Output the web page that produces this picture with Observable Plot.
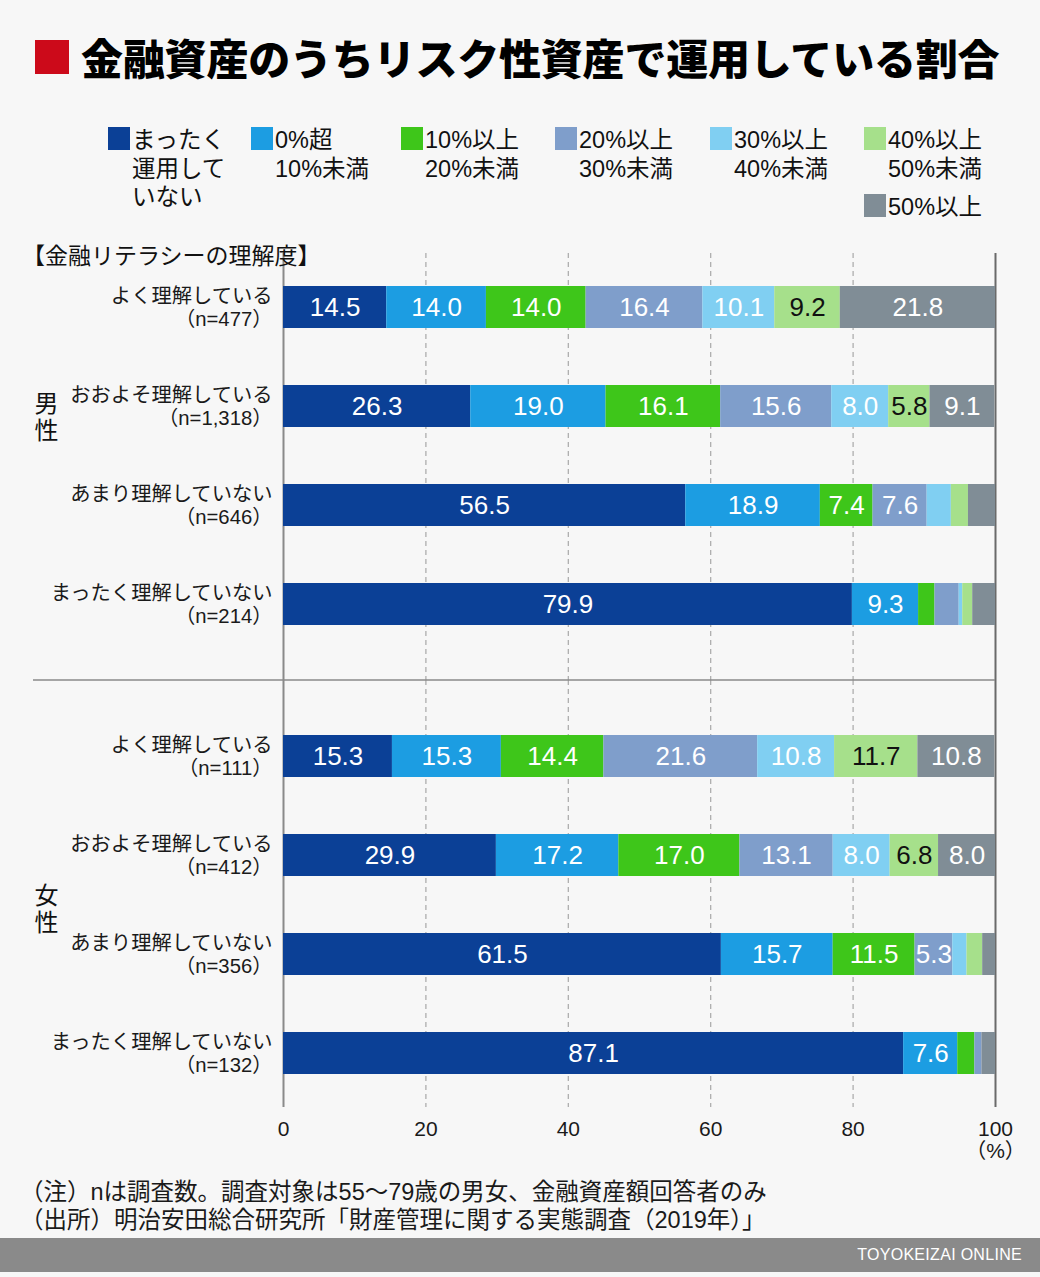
<!DOCTYPE html>
<html lang="ja">
<head>
<meta charset="utf-8">
<script src="https://cdn.jsdelivr.net/npm/d3@7"></script>
<script src="https://cdn.jsdelivr.net/npm/@observablehq/plot@0.6"></script>
<style>
  html, body { margin: 0; padding: 0; background: #f7f7f7; }
  #page { position: relative; width: 1040px; height: 1277px; overflow: hidden;
          font-family: "Noto Sans CJK JP", sans-serif; color: #1a1a1a; background: #f7f7f7; }
  #redbox { position: absolute; left: 35px; top: 40px; width: 34px; height: 34px; background: #cc0a1a; }
  #title { position: absolute; left: 81px; top: 30px; font-size: 42px; line-height: 54px;
           font-weight: 900; color: #000; white-space: nowrap; letter-spacing: -0.2px; }
  .leg { position: absolute; }
  .leg .sw { position: absolute; left: 0; top: 1px; width: 22px; height: 23px; }
  .leg .tx { position: absolute; left: 24px; top: 0; font-family: "Liberation Sans", "Noto Sans CJK JP", sans-serif;
             font-size: 23.5px; line-height: 28.5px; white-space: nowrap; color: #111; }
  #ylabel { position: absolute; left: 22px; top: 238px; font-size: 23px; line-height: 32px; color: #111; white-space: nowrap; }
  #chart { position: absolute; left: 0; top: 228px; }
  #notes { position: absolute; left: 20px; top: 1178px; font-family: "Liberation Sans", "Noto Sans CJK JP", sans-serif;
           font-size: 23.5px; line-height: 28px; color: #1a1a1a; white-space: nowrap; }
  #footer { position: absolute; left: 0; top: 1238px; width: 1040px; height: 34px; background: #8a8a8a; }
  #footer span { position: absolute; right: 18px; top: 0; line-height: 34px; font-family: "Liberation Sans", sans-serif;
                 font-size: 16px; color: #fff; letter-spacing: 0.3px; }
</style>
</head>
<body>
<div id="page">
  <div id="redbox"></div>
  <div id="title"></div>
  <div id="legend"></div>
  <div id="chart"></div>
  <div id="ylabel"></div>
  <div id="notes"></div>
  <div id="footer"><span></span></div>
</div>
<script>
// ---- Data ----
const titleText = "金融資産のうちリスク性資産で運用している割合";
const yAxisTitle = "【金融リテラシーの理解度】";
const genders = ["男性", "女性"];
const levels = ["よく理解している", "おおよそ理解している", "あまり理解していない", "まったく理解していない"];
const maleN = [477, 1318, 646, 214];
const femaleN = [111, 412, 356, 132];
const categories = ["まったく運用していない", "0%超10%未満", "10%以上20%未満", "20%以上30%未満", "30%以上40%未満", "40%以上50%未満", "50%以上"];
const legendLines = [["まったく", "運用して", "いない"], ["0%超", "10%未満"], ["10%以上", "20%未満"], ["20%以上", "30%未満"], ["30%以上", "40%未満"], ["40%以上", "50%未満"], ["50%以上"]];
const colors = ["#0b4096", "#1c9de2", "#3ec61a", "#7f9ecb", "#80cff2", "#a6e08b", "#808d96"];
const maleValues = [
  [14.5, 14.0, 14.0, 16.4, 10.1, 9.2, 21.8],
  [26.3, 19.0, 16.1, 15.6, 8.0, 5.8, 9.1],
  [56.5, 18.9, 7.4, 7.6, 3.4, 2.4, 3.8],
  [79.9, 9.3, 2.3, 3.4, 0.5, 1.4, 3.2]
];
const femaleValues = [
  [15.3, 15.3, 14.4, 21.6, 10.8, 11.7, 10.8],
  [29.9, 17.2, 17.0, 13.1, 8.0, 6.8, 8.0],
  [61.5, 15.7, 11.5, 5.3, 2.0, 2.2, 1.8],
  [87.1, 7.6, 2.4, 1.0, 0.0, 0.0, 1.9]
];
const xTicks = [0, 20, 40, 60, 80, 100];
const gridTicks = [20, 40, 60, 80];
const notes = ["（注）nは調査数。調査対象は55～79歳の男女、金融資産額回答者のみ",
               "（出所）明治安田総合研究所「財産管理に関する実態調査（2019年）」"];
const credit = "TOYOKEIZAI ONLINE";

// ---- Build tables ----
const valuesByGender = {"男性": maleValues, "女性": femaleValues};
const nByGender = {"男性": maleN, "女性": femaleN};
const bars = [];
const rows = [];
for (const g of genders) {
  levels.forEach((lv, i) => {
    rows.push({gender: g, level: lv, n: nByGender[g][i]});
    categories.forEach((c, j) => {
      bars.push({gender: g, level: lv, cat: c, value: valuesByGender[g][i][j]});
    });
  });
}

// ---- Header ----
document.getElementById("title").textContent = titleText;
document.getElementById("ylabel").textContent = yAxisTitle;
const legendLeft = [108, 251, 401, 555, 710, 864, 864];
const legendTop = [126, 126, 126, 126, 126, 126, 193];
const legend = d3.select("#legend");
categories.forEach((c, i) => {
  const item = legend.append("div").attr("class", "leg")
    .style("left", legendLeft[i] + "px").style("top", legendTop[i] + "px");
  item.append("div").attr("class", "sw").style("background", colors[i]);
  item.append("div").attr("class", "tx").html(legendLines[i].join("<br>"));
});
d3.select("#notes").html(notes.join("<br>"));
d3.select("#footer span").text(credit);

// ---- Chart ----
const W = 1040, H = 940, mT = 3, mB = 39, mL = 283, mR = 45;
const numFont = "'Liberation Sans', Arial, sans-serif";
const jpFont = "'Liberation Sans', 'Noto Sans CJK JP', sans-serif";
const gridData = genders.flatMap(g => gridTicks.map(x => ({gender: g, x})));
const fmtN = d3.format(",");

const chart = Plot.plot({
  width: W, height: H,
  marginTop: mT, marginBottom: mB, marginLeft: mL, marginRight: mR,
  style: {background: "transparent", fontFamily: jpFont, color: "#1a1a1a", overflow: "visible"},
  x: {domain: [0, 100]},
  y: {domain: levels, axis: null, paddingInner: 0.5772, paddingOuter: 0.5487},
  fy: {domain: genders, axis: null, padding: 0},
  color: {domain: categories, range: colors},
  marks: [
    // dashed grid
    Plot.ruleX(gridData.filter(d => d.gender === genders[0]), {x: "x", fy: "gender", stroke: "#a8a8a8", strokeWidth: 1.2, strokeDasharray: "5,4", insetTop: 22}),
    Plot.ruleX(gridData.filter(d => d.gender === genders[1]), {x: "x", fy: "gender", stroke: "#a8a8a8", strokeWidth: 1.2, strokeDasharray: "5,4", insetBottom: 22}),
    // axis lines at 0 and 100
    Plot.ruleX([{gender: genders[0], x: 0}, {gender: genders[0], x: 100}], {x: "x", fy: "gender", stroke: d => d.x === 0 ? "#8a8a8a" : "#6a6a6a", strokeWidth: 2, insetTop: 22}),
    Plot.ruleX([{gender: genders[1], x: 0}, {gender: genders[1], x: 100}], {x: "x", fy: "gender", stroke: d => d.x === 0 ? "#8a8a8a" : "#6a6a6a", strokeWidth: 2, insetBottom: 22}),
    // stacked bars
    Plot.barX(bars, Plot.stackX({x: "value", y: "level", fy: "gender", fill: "cat", order: categories})),
    // value labels
    Plot.text(bars, Plot.stackX({
      x: "value", y: "level", fy: "gender", z: "cat", order: categories,
      text: d => d.value >= 5 ? d.value.toFixed(1) : "",
      fill: d => d.cat === categories[5] ? "#111" : "#fff",
      fontSize: 26, fontFamily: numFont
    })),
    // row labels
    Plot.text(rows, {
      y: "level", fy: "gender", frameAnchor: "left", textAnchor: "end", dx: -11,
      text: d => `${d.level}\n（n=${fmtN(d.n)}）`,
      fontSize: 20.3, lineHeight: 1.1, fill: "#1a1a1a", fontFamily: jpFont
    }),
    // group labels
    Plot.text([{gender: genders[0], level: levels[1]}], {
      y: "level", fy: "gender", frameAnchor: "left", dx: -237, dy: 10, textAnchor: "middle",
      text: d => d.gender.split("").join("\n"), fontSize: 24, lineHeight: 1.12, fill: "#111", fontFamily: "'Noto Sans CJK JP', sans-serif"
    }),
    Plot.text([{gender: genders[1]}], {
      fy: "gender", frameAnchor: "left", dx: -237, dy: 4, textAnchor: "middle",
      text: d => d.gender.split("").join("\n"), fontSize: 24, lineHeight: 1.12, fill: "#111", fontFamily: "'Noto Sans CJK JP', sans-serif"
    }),
    // x axis
    Plot.axisX({
      ticks: xTicks, tickSize: 0, tickPadding: -10,
      tickFormat: d => d === 100 ? "100\n（%）" : String(d),
      fontSize: 21, fill: "#1a1a1a", fontFamily: jpFont, lineHeight: 1.08
    })
  ]
});
document.getElementById("chart").appendChild(chart);

// separator between groups
let sepY;
try {
  const fy = chart.scale("fy");
  sepY = fy.apply(genders[1]);
} catch (e) { sepY = undefined; }
if (!(sepY > 0)) sepY = mT + (H - mT - mB) / 2;
let xs;
try { xs = chart.scale("x"); } catch (e) { xs = null; }
const x100 = xs ? xs.apply(100) : W - mR;
d3.select(chart).append("line")
  .attr("x1", 33).attr("x2", x100).attr("y1", sepY).attr("y2", sepY)
  .attr("stroke", "#8a8a8a").attr("stroke-width", 1.6);
</script>
</body>
</html>
